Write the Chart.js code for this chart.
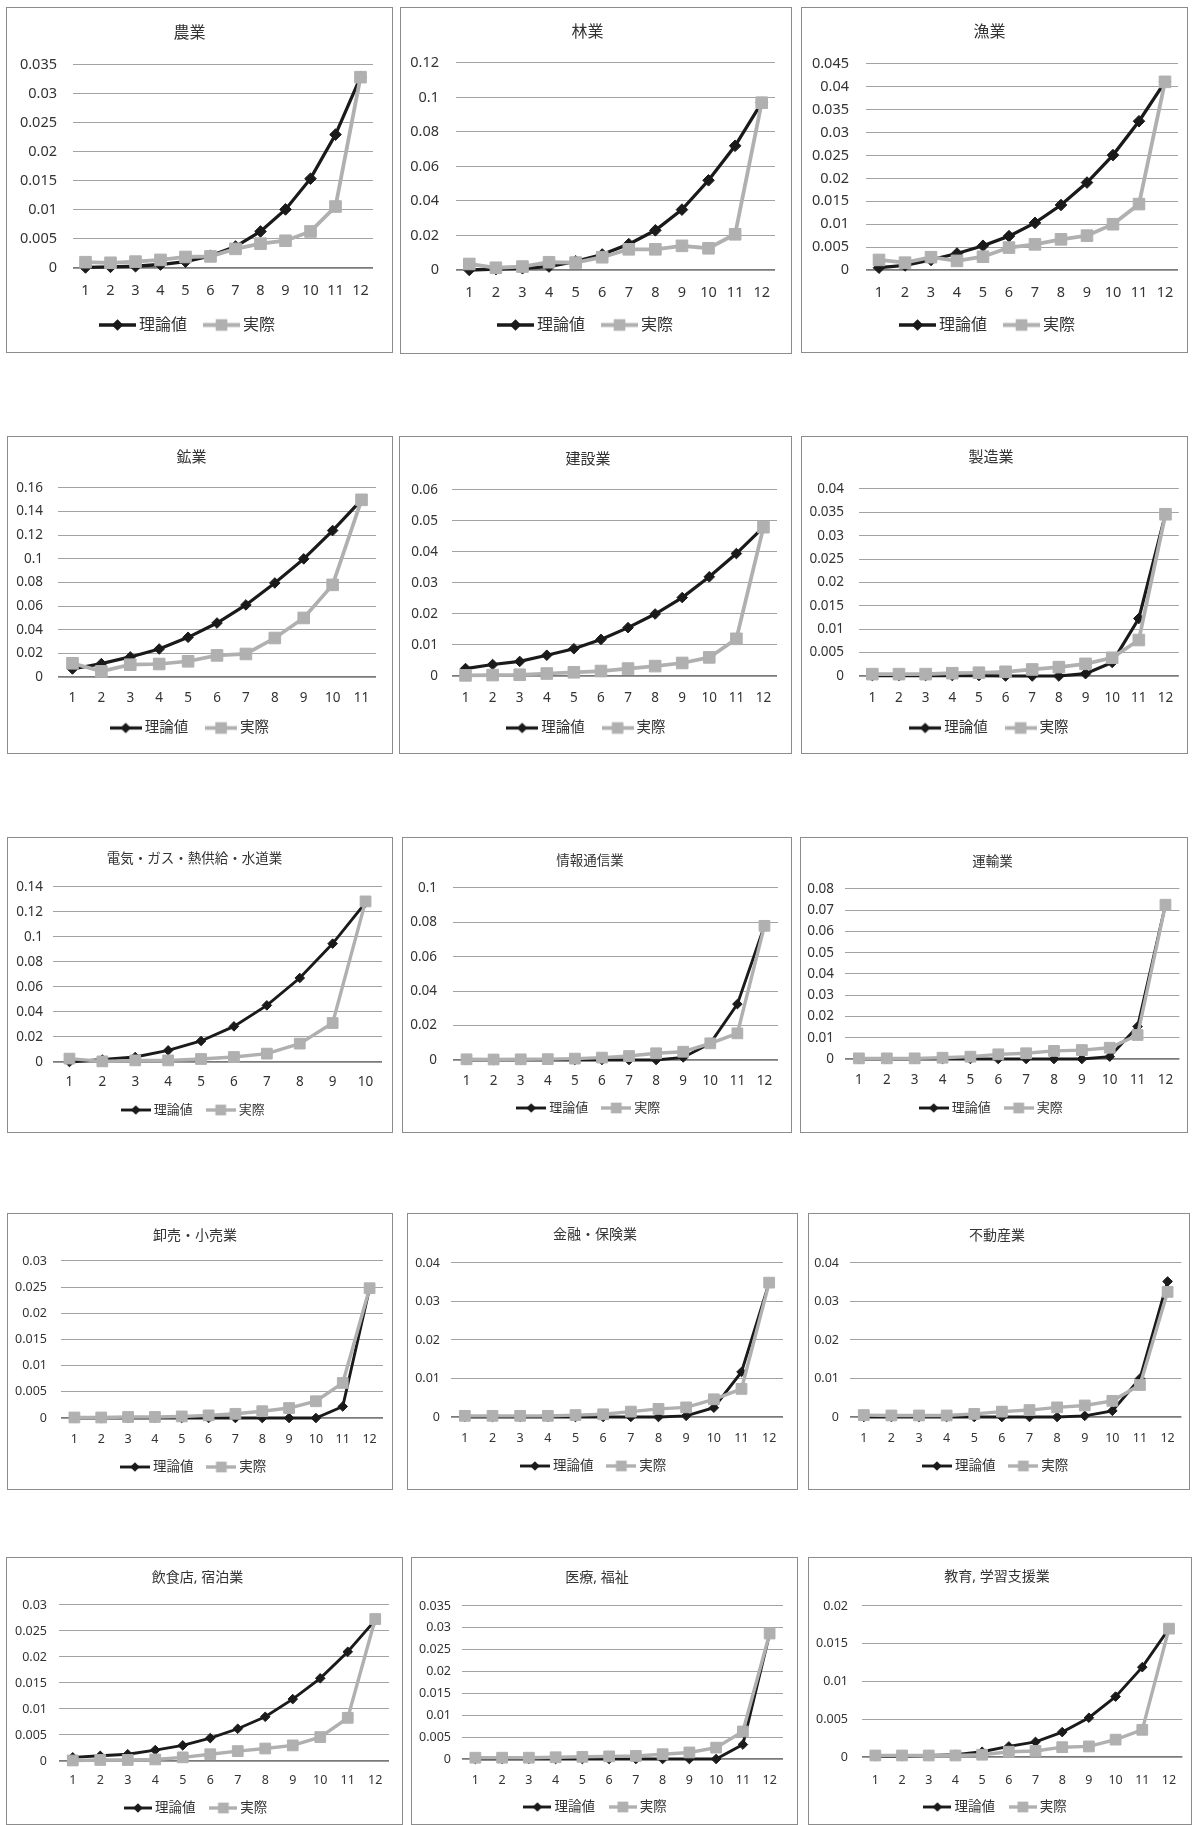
<!DOCTYPE html>
<html><head><meta charset="utf-8">
<script src="https://cdn.jsdelivr.net/npm/chart.js@4.4.1/dist/chart.umd.min.js"></script>
<style>
html,body{margin:0;padding:0;background:#fff;}
body{width:1192px;height:1825px;overflow:hidden;position:relative;}
.frame{position:absolute;box-sizing:border-box;border:1px solid #8c8c8c;}
canvas{position:absolute;}
</style></head><body>
<script>
// ---------- data ----------
const titles = ['農業','林業','漁業','鉱業','建設業','製造業','電気・ガス・熱供給・水道業','情報通信業','運輸業','卸売・小売業','金融・保険業','不動産業','飲食店, 宿泊業','医療, 福祉','教育, 学習支援業'];
const seriesNames = ['理論値','実際'];
const X12 = ['1','2','3','4','5','6','7','8','9','10','11','12'];
const X11 = ['1','2','3','4','5','6','7','8','9','10','11'];
const X10 = ['1','2','3','4','5','6','7','8','9','10'];

const agriTheory = [0.0001,0.0002,0.0003,0.0006,0.0011,0.0021,0.0037,0.0063,0.0101,0.0154,0.023,0.0329];
const agriActual = [0.001,0.0009,0.0011,0.0014,0.0019,0.002,0.0033,0.0042,0.0047,0.0063,0.0106,0.0329];
const forestTheory = [0,0.0005,0.001,0.002,0.005,0.009,0.015,0.023,0.035,0.052,0.072,0.097];
const forestActual = [0.0035,0.0013,0.002,0.0045,0.0043,0.0074,0.012,0.012,0.014,0.0126,0.0207,0.097];
const fishTheory = [0.0005,0.001,0.0022,0.0036,0.0053,0.0074,0.0103,0.0142,0.0191,0.0251,0.0325,0.0411];
const fishActual = [0.0022,0.0016,0.0028,0.002,0.0029,0.0049,0.0056,0.0067,0.0075,0.01,0.0144,0.0411];
const miningTheory = [0.0068,0.0113,0.017,0.0237,0.0336,0.0457,0.061,0.0796,0.1,0.124,0.15];
const miningActual = [0.0116,0.0048,0.0104,0.011,0.0133,0.0183,0.0195,0.033,0.05,0.078,0.15];
const constrTheory = [0.0024,0.0037,0.0047,0.0067,0.0088,0.0118,0.0156,0.02,0.0253,0.032,0.0395,0.048];
const constrActual = [0.0002,0.0003,0.0004,0.0008,0.0012,0.0016,0.0024,0.0032,0.0042,0.006,0.012,0.048];
const manufTheory = [0.0001,0.0001,0.0001,0.0001,0.0001,0,0,0,0.0005,0.0029,0.0123,0.0346];
const manufActual = [0.0004,0.0004,0.0004,0.0006,0.0007,0.0009,0.0014,0.0019,0.0026,0.0039,0.0077,0.0346];
const utilTheory = [0,0.002,0.004,0.0093,0.0168,0.0285,0.0453,0.0672,0.0947,0.1275];
const utilActual = [0.0027,0.0005,0.0013,0.0013,0.0024,0.004,0.0067,0.0147,0.0312,0.1285];
const infoTheory = [0,0,0,0,0,0,0,0,0.0015,0.0097,0.0325,0.078];
const infoActual = [0.0004,0.0003,0.0004,0.0005,0.0008,0.0014,0.0023,0.0039,0.0048,0.0097,0.0155,0.078];
const transTheory = [0,0,0,0,0,0,0,0,0,0.0011,0.0153,0.0726];
const transActual = [0.0003,0.0003,0.0003,0.0006,0.0011,0.0022,0.0027,0.0038,0.0042,0.0053,0.0113,0.0726];
const tradeTheory = [0,0,0,0,0,0,0,0,0,0,0.0022,0.0248];
const tradeActual = [0.0001,0.0001,0.0002,0.0002,0.0003,0.0005,0.0008,0.0013,0.0019,0.0032,0.0067,0.0248];
const financeTheory = [0,0,0,0,0,0,0,0,0.0003,0.0024,0.0117,0.0349];
const financeActual = [0.0003,0.0003,0.0003,0.0003,0.0005,0.0007,0.0014,0.0021,0.0025,0.0046,0.0073,0.0349];
const realTheory = [0,0,0,0,0,0,0,0,0.0003,0.0016,0.01,0.0352];
const realActual = [0.0005,0.0004,0.0004,0.0004,0.0008,0.0014,0.0018,0.0025,0.003,0.0042,0.0083,0.0325];
const foodTheory = [0.0007,0.001,0.0013,0.0021,0.003,0.0044,0.0062,0.0085,0.0119,0.0159,0.021,0.0271];
const foodActual = [0.0001,0.0002,0.0002,0.0003,0.0007,0.0013,0.0019,0.0024,0.003,0.0046,0.0083,0.0273];
const medTheory = [0,0,0,0,0,0,0,0,0,0,0.0033,0.0287];
const medActual = [0.0003,0.0003,0.0003,0.0004,0.0005,0.0006,0.0007,0.0011,0.0015,0.0026,0.0063,0.0287];
const eduTheory = [0.0001,0.0001,0.0002,0.0003,0.0007,0.0014,0.002,0.0033,0.0052,0.008,0.0119,0.017];
const eduActual = [0.0002,0.0002,0.0002,0.0002,0.0003,0.0007,0.0008,0.0013,0.0014,0.0023,0.0036,0.017];

const xLabelSets = [X12,X12,X12, X11,X12,X12, X10,X12,X12, X12,X12,X12, X12,X12,X12];
const theorySets = [agriTheory,forestTheory,fishTheory,miningTheory,constrTheory,manufTheory,utilTheory,infoTheory,transTheory,tradeTheory,financeTheory,realTheory,foodTheory,medTheory,eduTheory];
const actualSets = [agriActual,forestActual,fishActual,miningActual,constrActual,manufActual,utilActual,infoActual,transActual,tradeActual,financeActual,realActual,foodActual,medActual,eduActual];
const yMaxes = [0.035,0.12,0.045, 0.16,0.06,0.04, 0.14,0.1,0.08, 0.03,0.04,0.04, 0.03,0.035,0.02];
const ySteps = [0.005,0.02,0.005, 0.02,0.01,0.005, 0.02,0.02,0.01, 0.005,0.01,0.01, 0.005,0.005,0.005];

// ---------- layout (page pixels) ----------
const frames = [
  [6,7,393,353],[400,7,792,354],[801,7,1188,353],
  [7,436,393,754],[399,436,792,754],[801,436,1188,754],
  [7,837,393,1133],[402,837,792,1133],[800,837,1188,1133],
  [7,1213,393,1490],[407,1213,798,1490],[808,1213,1190,1490],
  [6,1557,403,1830],[411,1557,798,1830],[808,1557,1192,1830]
];
const plots = [
  [73,65,373,268],[456,63,775,270],[866,64,1178,270],
  [58,488,376,677],[452,490,777,676],[859,489,1181,676],
  [53,887,382,1062],[453,888,778,1060],[845,889,1185,1059],
  [61,1261,383,1418],[451,1263,783,1417],[850,1263,1186,1417],
  [59,1605,389,1761],[462,1606,783,1759],[862,1606,1186,1757]
];
// title centre y, x-label centre y, legend centre y, y-label gap
const guides = [
  [33,291,325,16],[32,293,325,17],[32,293,325,17],
  [458,698,728,15],[460,698,728,14],[458,698,728,15],
  [859,1082,1110,10],[861,1081,1108,16],[862,1080,1108,11],
  [1236,1439,1467,14],[1235,1438,1466,11],[1236,1438,1466,11],
  [1578,1780,1808,12],[1578,1780,1807,11],[1577,1780,1807,14]
];
const rowFonts = [[16,14.5,16],[15,13.5,14.5],[13.5,13.5,13],[14,12.5,13.5],[14,12.5,13.5]];
const rowStyles = [
  {symW:37,gapT:16,rD:5.8,rS:8.2,lwB:3.3,lwG:3.8},
  {symW:32,gapT:17,rD:5.3,rS:8.2,lwB:3.2,lwG:3.7},
  {symW:30,gapT:13,rD:4.8,rS:7.6,lwB:2.9,lwG:3.4},
  {symW:30,gapT:13,rD:4.8,rS:7.6,lwB:2.9,lwG:3.4},
  {symW:28,gapT:14,rD:4.8,rS:7.6,lwB:2.9,lwG:3.4}
];
const FONT = "'Noto Sans','Noto Sans CJK JP',sans-serif";
const TEXT = '#333333';
const BLACK = '#1a1a1a';
const GRAY = '#b0b0b0';

function legendIcon(kind, w, color, lw, r) {
  const h = Math.ceil(2 * r + 2);
  const c = document.createElement('canvas');
  c.width = w; c.height = h;
  const g = c.getContext('2d');
  g.strokeStyle = color; g.lineWidth = lw;
  g.beginPath(); g.moveTo(0, h / 2); g.lineTo(w, h / 2); g.stroke();
  g.fillStyle = color;
  g.beginPath();
  if (kind === 'diamond') {
    g.moveTo(w / 2 - r, h / 2); g.lineTo(w / 2, h / 2 - r); g.lineTo(w / 2 + r, h / 2); g.lineTo(w / 2, h / 2 + r); g.closePath();
  } else {
    const s = r * Math.SQRT1_2;
    g.rect(w / 2 - s, h / 2 - s, 2 * s, 2 * s);
  }
  g.fill();
  return c;
}

const fmt = v => String(Math.round(v * 1e6) / 1e6);

// let x tick labels overflow their (thin) axis box instead of being clipped
const noLabelClip = {
  id: 'noLabelClip',
  afterLayout(chart) {
    const xs = chart.scales.x;
    if (xs) xs._computeLabelArea = () => null;
  }
};

titles.forEach((title, i) => {
  const row = Math.floor(i / 3);
  const [fx1, fy1, fx2, fy2] = frames[i];
  const [px1, py1, px2, py2] = plots[i];
  const [tc, xc, lc, ypad] = guides[i];
  const [fsT, fsK, fsL] = rowFonts[row];
  const st = rowStyles[row];
  const W = fx2 - fx1, H = fy2 - fy1;

  const frame = document.createElement('div');
  frame.className = 'frame';
  frame.style.left = fx1 + 'px'; frame.style.top = fy1 + 'px';
  frame.style.width = W + 'px'; frame.style.height = Math.min(H, 1825 - fy1) + 'px';
  document.body.appendChild(frame);

  const cv = document.createElement('canvas');
  cv.width = W; cv.height = H;
  cv.style.left = fx1 + 'px'; cv.style.top = fy1 + 'px';
  cv.style.width = W + 'px'; cv.style.height = H + 'px';
  document.body.appendChild(cv);

  const pL = px1 - fx1, pR = px2 - fx1, pT = py1 - fy1, pB = py2 - fy1;
  const tC = tc - fy1, xC = xc - fy1, lC = lc - fy1;
  const LHt = fsT * 1.2;
  const ov = fsL / 2 - 3;
  const boxW = st.symW - 2 * ov;
  const lp = st.gapT + ov;
  const legTop = lC - lp - fsL / 2;
  const padBottom = Math.max(0, H - legTop - (fsL + lp + 10));
  const xh = legTop - pB;
  const xpad = xC - pB - 0.6 * fsK;

  const icons = [
    legendIcon('diamond', st.symW, BLACK, st.lwB, st.rD),
    legendIcon('square', st.symW, GRAY, st.lwG, st.rS)
  ];

  new Chart(cv, {
    type: 'line',
    plugins: [noLabelClip],
    data: {
      labels: xLabelSets[i],
      datasets: [
        { label: seriesNames[0], data: theorySets[i], borderColor: BLACK, backgroundColor: BLACK,
          borderWidth: st.lwB, pointStyle: 'rectRot', pointRadius: st.rD, pointBorderWidth: 1,
          pointBackgroundColor: BLACK, pointBorderColor: BLACK, tension: 0, order: 1, clip: false },
        { label: seriesNames[1], data: actualSets[i], borderColor: GRAY, backgroundColor: GRAY,
          borderWidth: st.lwG, pointStyle: 'rect', pointRadius: st.rS, pointBorderWidth: 1,
          pointBackgroundColor: GRAY, pointBorderColor: GRAY, tension: 0, order: 0, clip: false }
      ]
    },
    options: {
      responsive: false,
      animation: false,
      devicePixelRatio: 1,
      events: [],
      layout: { padding: { left: 0, right: W - pR, top: 0, bottom: padBottom } },
      plugins: {
        tooltip: { enabled: false },
        title: {
          display: true, text: title, color: TEXT,
          font: { family: FONT, size: fsT, weight: 'normal', lineHeight: 1.2 },
          padding: { top: tC - LHt / 2, bottom: pT - tC - LHt / 2 }
        },
        legend: {
          display: true, position: 'bottom', align: 'center',
          labels: {
            usePointStyle: true, pointStyleWidth: boxW, padding: lp, color: TEXT,
            font: { family: FONT, size: fsL },
            generateLabels: () => seriesNames.map((n, k) => ({
              text: n, pointStyle: icons[k], fillStyle: k ? GRAY : BLACK, strokeStyle: k ? GRAY : BLACK,
              lineWidth: 0, hidden: false, datasetIndex: k, fontColor: TEXT
            }))
          }
        }
      },
      scales: {
        x: {
          type: 'category', offset: true,
          grid: { display: false, drawTicks: false },
          border: { display: false },
          ticks: { color: TEXT, font: { family: FONT, size: fsK }, padding: xpad, autoSkip: false, maxRotation: 0 },
          afterFit: s => { s.height = xh; }
        },
        y: {
          min: 0, max: yMaxes[i],
          grid: {
            drawTicks: false,
            color: c => (c.tick && c.tick.value === 0) ? '#7a7a7a' : '#a3a3a3',
            lineWidth: c => (c.tick && c.tick.value === 0) ? 1.7 : 1.1
          },
          border: { display: false },
          ticks: { stepSize: ySteps[i], color: TEXT, font: { family: FONT, size: fsK }, padding: ypad,
                   autoSkip: false, callback: v => fmt(v) },
          afterFit: s => { s.width = pL; }
        }
      }
    }
  });
});
</script>
</body></html>
